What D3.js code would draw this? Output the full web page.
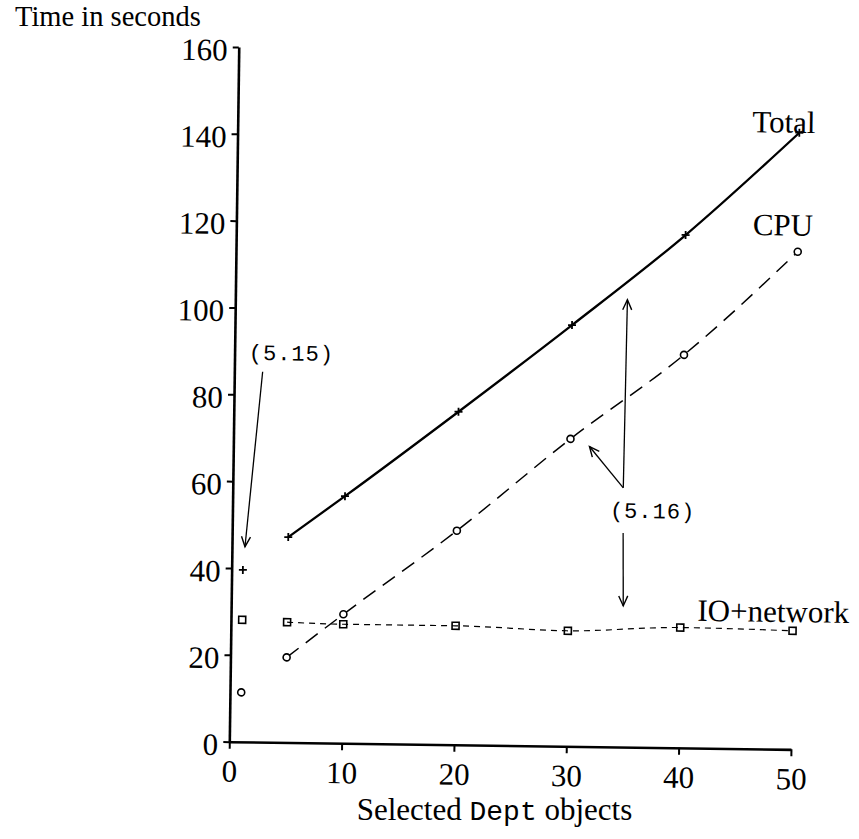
<!DOCTYPE html>
<html><head><meta charset="utf-8">
<script src="https://cdn.jsdelivr.net/npm/d3@7"></script>
<style>body{margin:0;background:#fff}svg{display:block}</style>
</head><body>
<svg id="c" width="859" height="839"></svg>
<script>
// ---- data ----
const xValues = [1, 5, 10, 20, 30, 40, 50];
const totalValues = [39.6, 47.3, 56.9, 76.7, 97.0, 118.1, 142.0];
const cpuValues   = [11.4, 19.6, 29.7, 49.3, 70.8, 90.5, 114.6];
const ioValues    = [28.1, 27.7, 27.4, 27.4, 26.6, 27.7, 27.3];
const xTicks = [0, 10, 20, 30, 40, 50];
const yTicks = [0, 20, 40, 60, 80, 100, 120, 140, 160];
const seriesNames = ["Total", "CPU", "IO+network"];
const yTitle = "Time in seconds";
const xTitleParts = ["Selected ", "Dept", " objects"];
const eq515 = "(5.15)", eq516 = "(5.16)";

// ---- chart ----
const svg = d3.select("#c");
const serif = "'Liberation Serif','Times New Roman',serif";
const mono = "'Liberation Mono','Courier New',monospace";
const W = 561.7, H = 694.8;
const x = d3.scaleLinear().domain([0, 50]).range([0, W]);
const y = d3.scaleLinear().domain([0, 160]).range([0, -H]);

const defs = svg.append("defs");
defs.append("marker").attr("id", "ah").attr("markerUnits", "userSpaceOnUse")
  .attr("viewBox", "-12 -6 14 12").attr("refX", 0).attr("refY", 0)
  .attr("markerWidth", 14).attr("markerHeight", 12).attr("orient", "auto")
  .append("path").attr("d", "M-10,-4.5L0,0L-10,4.5").attr("fill", "none")
  .attr("stroke", "#000").attr("stroke-width", 1.4);

const g = svg.append("g").attr("transform", "translate(229.3,741.7) rotate(0.78)");

// axes
const xa = g.append("g").call(d3.axisBottom(x).tickValues(xTicks).tickSize(7).tickPadding(11).tickSizeOuter(0));
const ya = g.append("g").call(d3.axisLeft(y).tickValues(yTicks).tickSize(6).tickPadding(5).tickSizeOuter(0));
[xa, ya].forEach(a => {
  a.select(".domain").attr("stroke", "#000").attr("stroke-width", 2.6);
  a.selectAll(".tick line").attr("stroke", "#000").attr("stroke-width", 2);
  a.selectAll(".tick text").attr("fill", "#000").style("font-family", serif).style("font-size", "31px");
});
ya.selectAll(".tick text").attr("dy", "0.42em");

// series
const pts = vals => xValues.map((xv, i) => [xv, vals[i]]);
const line = d3.line().x(d => x(d[0])).y(d => y(d[1])).curve(d3.curveMonotoneX);

const total = pts(totalValues), cpu = pts(cpuValues), io = pts(ioValues);

g.append("path").attr("d", line(io.slice(1))).attr("fill", "none")
  .attr("stroke", "#000").attr("stroke-width", 1.2).attr("stroke-dasharray", "6,5");
g.append("path").attr("d", line(cpu.slice(1))).attr("fill", "none")
  .attr("stroke", "#000").attr("stroke-width", 1.5).attr("stroke-dasharray", "15,9");
g.append("path").attr("d", line(total.slice(1))).attr("fill", "none")
  .attr("stroke", "#000").attr("stroke-width", 2.3);

g.selectAll(".plus").data(total).enter().append("path")
  .attr("transform", d => `translate(${x(d[0])},${y(d[1])})`)
  .attr("d", "M-4,0H4M0,-4V4").attr("stroke", "#000").attr("stroke-width", 1.8);
g.selectAll(".circ").data(cpu).enter().append("circle")
  .attr("cx", d => x(d[0])).attr("cy", d => y(d[1])).attr("r", 3.5)
  .attr("fill", "#fff").attr("stroke", "#000").attr("stroke-width", 1.6);
g.selectAll(".sq").data(io).enter().append("rect")
  .attr("x", d => x(d[0]) - 3.5).attr("y", d => y(d[1]) - 3.5)
  .attr("width", 7).attr("height", 7)
  .attr("fill", "none").attr("stroke", "#000").attr("stroke-width", 1.6);

// series labels
const lbl = [[45.8, 142.0], [45.97, 118.3], [41.5, 29.3]];
seriesNames.forEach((n, i) => {
  g.append("text").attr("x", x(lbl[i][0])).attr("y", y(lbl[i][1]))
    .style("font-family", serif).style("font-size", "31px").text(n);
});

// annotations
const arrows = [
  [[2.52, 85.3], [1.16, 44.95]],
  [[34.76, 59.7], [34.9, 103.0]],
  [[34.76, 59.7], [31.7, 69.1]],
  [[34.8, 49.3], [34.9, 32.5]]
];
arrows.forEach(a => {
  g.append("line").attr("x1", x(a[0][0])).attr("y1", y(a[0][1]))
    .attr("x2", x(a[1][0])).attr("y2", y(a[1][1]))
    .attr("stroke", "#000").attr("stroke-width", 1.3).attr("marker-end", "url(#ah)");
});
g.append("text").attr("x", x(5.06)).attr("y", y(88)).attr("text-anchor", "middle")
  .style("font-family", mono).style("font-size", "22px").style("letter-spacing", "1px").text(eq515);
g.append("text").attr("x", x(37.4)).attr("y", y(52.8)).attr("text-anchor", "middle")
  .style("font-family", mono).style("font-size", "22px").style("letter-spacing", "1px").text(eq516);

// titles
svg.append("text").attr("x", 15).attr("y", 26)
  .style("font-family", serif).style("font-size", "28.5px").text(yTitle);
const xt = svg.append("text").attr("x", 494.5).attr("y", 820).attr("text-anchor", "middle")
  .style("font-family", serif).style("font-size", "31px");
xt.append("tspan").text(xTitleParts[0]);
xt.append("tspan").style("font-family", mono).style("font-size", "28px").text(xTitleParts[1]);
xt.append("tspan").text(xTitleParts[2]);
</script>
</body></html>
